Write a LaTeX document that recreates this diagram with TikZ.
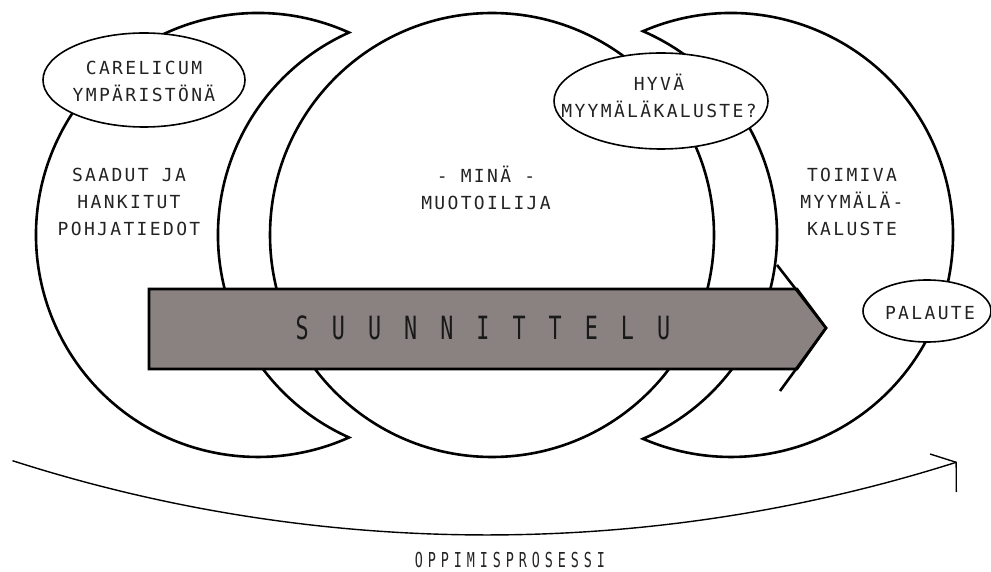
\documentclass[tikz,border=0pt]{standalone}
\usepackage{fontspec}
\usetikzlibrary{shapes.geometric}
\newfontfamily\labelfont[LetterSpace=13]{DejaVu Sans Mono}
\newfontfamily\planfont[FakeStretch=0.68,LetterSpace=72]{DejaVu Sans Mono}
\newfontfamily\processfont[FakeStretch=0.65,LetterSpace=24]{DejaVu Sans Mono}
\definecolor{arrowgray}{RGB}{137,130,128}
\definecolor{inkgray}{RGB}{35,35,35}

\begin{document}
\begin{tikzpicture}[x=1pt,y=1pt,line width=2.6pt,
  lbl/.style={font={\labelfont\fontsize{18}{27}\selectfont},text=inkgray,align=center,inner sep=0pt},
  bubble/.style={ellipse,draw,fill=white,line width=1.6pt,inner sep=0pt}]
\useasboundingbox (0,0) rectangle (991,571);
\def\rc{222}
\pgfmathsetmacro\aL{acos(91/\rc)}
\pgfmathsetmacro\aR{acos(88/\rc)}
% crescents and the middle circle
\draw (349,{336+\rc*sin(\aL)}) arc[start angle=\aL,end angle=360-\aL,radius=\rc pt]
  arc[start angle=180+\aL,end angle=180-\aL,radius=\rc pt] -- cycle;
\draw (492,336) circle[radius=\rc pt];
\draw (643,{336+\rc*sin(\aR)}) arc[start angle=180-\aR,end angle=\aR-180,radius=\rc pt]
  arc[start angle=-\aR,end angle=\aR,radius=\rc pt] -- cycle;
% learning process arc
\draw[line width=1.4pt] (12.5,110.3) arc[start angle=252.2,end angle=287.6,radius=1552pt] coordinate (arcend);
\draw[line width=1.4pt] (930,117) -- (arcend) -- (956.3,79);
\node[font={\processfont\fontsize{20.6}{20.6}\selectfont},text=inkgray] (process) at (510,11) {OPPIMISPROSESSI};
% design arrow
\draw[fill=arrowgray] (149,282) -- (797,282) -- (826,243) -- (797,202) -- (149,202) -- cycle;
\draw (777,306) -- (826,243) -- (780,180);
\node[font={\planfont\fontsize{32}{32}\selectfont},text=black!90] (plan) at (483,243) {SUUNNITTELU};
% bubbles
\node[bubble,minimum width=202pt,minimum height=94pt] (env) at (144,491) {};
\node[bubble,minimum width=214pt,minimum height=96pt] (good) at (661,470) {};
\node[bubble,minimum width=128pt,minimum height=62pt] (feedback) at (927,260) {};
\node[lbl] at (144,490) {CARELICUM\\YMPÄRISTÖNÄ};
\node[lbl] at (659,475.5) {HYVÄ\\MYYMÄLÄKALUSTE?};
\node[lbl] at (930,258) {PALAUTE};
% texts in the circles
\node[lbl] (prior) at (129,369) {SAADUT JA\\HANKITUT\\POHJATIEDOT};
\node[lbl] (me) at (486,383.5) {- MINÄ -\\MUOTOILIJA};
\node[lbl] (result) at (852,369) {TOIMIVA\\MYYMÄLÄ-\\KALUSTE};
\end{tikzpicture}
\end{document}
